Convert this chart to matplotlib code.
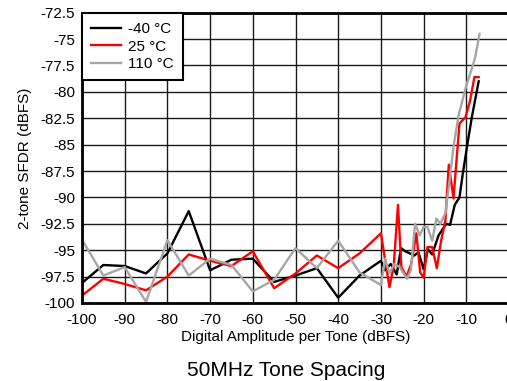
import matplotlib
matplotlib.use('Agg')
import matplotlib.pyplot as plt

plt.rcParams['font.family'] = ['Liberation Sans', 'DejaVu Sans']
plt.rcParams['axes.unicode_minus'] = False

# values
x_m40 = [-100, -95, -90, -85, -80, -75, -70, -65, -60, -55, -50, -45, -40, -35, -30,
         -29, -27.7, -26.3, -25.3, -24.3, -22.2, -21.2, -20, -19, -18, -16.5, -14.7,
         -13.8, -12.7, -11.6, -10.8, -9.8, -8.7, -7.1]
y_m40 = [-98.1, -96.4, -96.5, -97.2, -95.3, -91.3, -96.9, -95.9, -95.8, -98.0, -97.4,
         -96.7, -99.5, -97.4, -96.0, -96.9, -96.3, -97.3, -94.8, -95.1, -95.5, -95.2,
         -96.8, -94.9, -95.4, -93.6, -92.5, -92.6, -90.7, -90.0, -87.7, -85.1, -82.4, -79.0]

x_25 = [-100, -95, -90, -85, -80, -75, -70, -65, -60, -55, -50, -45, -40, -35, -30,
        -28, -27, -26, -25.2, -24, -22.9, -21.7, -20.8, -20, -19.1, -18, -16.9, -15.9,
        -14.9, -14.1, -13, -11.6, -10.2, -9.1, -8.1, -7.1]
y_25 = [-99.3, -97.7, -98.2, -98.8, -97.5, -95.4, -96.0, -96.5, -95.1, -98.6, -97.2,
        -95.5, -96.7, -95.3, -93.4, -98.5, -96.5, -90.7, -96.6, -97.5, -96.3, -93.4,
        -97.1, -97.6, -94.7, -94.7, -96.7, -94.1, -92.2, -86.9, -90.1, -83.0, -82.4,
        -80.8, -78.6, -78.6]

x_110 = [-100, -95, -90, -85, -80, -75, -70, -65, -60, -55, -50, -45, -40, -35, -30,
         -29, -28, -26.9, -25.6, -23.9, -23, -22, -20.9, -20, -19.1, -18, -17, -16.1,
         -14.9, -14.1, -13, -11.8, -10, -8.7, -7.9, -6.9]
y_110 = [-94.0, -97.4, -96.6, -99.9, -94.05, -97.4, -95.8, -96.4, -98.9, -97.8, -94.8,
         -96.7, -94.1, -97.1, -98.3, -95.8, -97.2, -96.3, -96.6, -97.7, -96.9, -92.5,
         -93.6, -92.8, -92.8, -94.1, -92.0, -92.5, -91.5, -89.0, -85.2, -82.2, -79.4,
         -77.8, -76.7, -74.5]

xticks = [-100, -90, -80, -70, -60, -50, -40, -30, -20, -10, 0]
yticks = [-100, -97.5, -95, -92.5, -90, -87.5, -85, -82.5, -80, -77.5, -75, -72.5]
ytick_labels = ['-100', '-97.5', '-95', '-92.5', '-90', '-87.5', '-85', '-82.5',
                '-80', '-77.5', '-75', '-72.5']

fig = plt.figure(figsize=(5.07, 3.81), dpi=100)
ax = fig.add_axes([82 / 507, 1 - 303 / 381, (509 - 82) / 507, (303 - 12.7) / 381])

ax.plot(x_m40, y_m40, color='black', lw=1.7, label='-40 °C')
ax.plot(x_25, y_25, color='#ff0000', lw=1.7, label='25 °C')
ax.plot(x_110, y_110, color='#a6a6a6', lw=1.7, label='110 °C')

ax.set_xlim(-100, 0)
ax.set_ylim(-100, -72.5)
ax.set_xticks(xticks)
ax.set_yticks(yticks)
ax.set_yticklabels(ytick_labels)
ax.tick_params(length=0, labelsize=11, colors='black')
ax.tick_params(axis='x', pad=7)
ax.tick_params(axis='y', pad=5)
ax.grid(True, color='#1a1a1a', lw=1.0)
ax.set_axisbelow(True)
for s in ax.spines.values():
    s.set_linewidth(2)
    s.set_color('black')

ax.set_xlabel('Digital Amplitude per Tone (dBFS)', fontsize=11, labelpad=2)
ax.set_ylabel('2-tone SFDR (dBFS)', fontsize=11, labelpad=6)

leg = ax.legend(loc='upper left', bbox_to_anchor=(0, 1), borderaxespad=0, fontsize=11,
                handlelength=1.9, handletextpad=0.5, labelspacing=0.22, borderpad=0.62,
                fancybox=False, framealpha=1)
leg.get_frame().set_edgecolor('black')
leg.get_frame().set_linewidth(1.5)

fig.text(286 / 507, 1 - 370 / 381, '50MHz Tone Spacing', fontsize=15,
         ha='center', va='center')

fig.savefig('out.png', dpi=100)
